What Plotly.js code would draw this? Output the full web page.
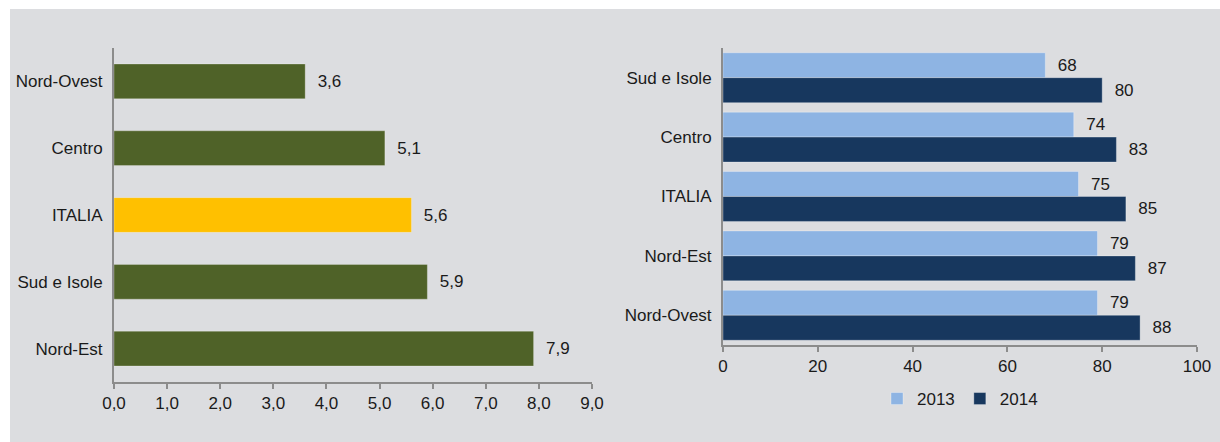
<!DOCTYPE html>
<html>
<head>
<meta charset="utf-8">
<script src="https://cdn.plot.ly/plotly-3.0.1.min.js"></script>
<style>html,body{margin:0;padding:0;background:#fff;}#chart{width:1220px;height:442px;}</style>
</head>
<body>
<div id="chart"></div>
<script>
// Left chart
const leftCategories = ["Nord-Ovest", "Centro", "ITALIA", "Sud e Isole", "Nord-Est"];
const leftValues = [3.6, 5.1, 5.6, 5.9, 7.9];
const leftColors = ["#4f6228", "#4f6228", "#ffc000", "#4f6228", "#4f6228"];
const leftTicks = [0, 1, 2, 3, 4, 5, 6, 7, 8, 9];

// Right chart
const rightCategories = ["Sud e Isole", "Centro", "ITALIA", "Nord-Est", "Nord-Ovest"];
const values2013 = [68, 74, 75, 79, 79];
const values2014 = [80, 83, 85, 87, 88];
const seriesNames = ["2013", "2014"];
const rightTicks = [0, 20, 40, 60, 80, 100];

const W = 1220, H = 442;
const px = v => v / W;
const py = v => (H - v) / H;

const font = {family: "Liberation Sans, Arial, sans-serif", size: 17, color: "#1a1a1a"};
const NB = "\u00a0\u00a0";
const rightBarWidth = 0.42;

const traces = [
  {
    type: "bar", orientation: "h",
    y: leftCategories, x: leftValues,
    xaxis: "x", yaxis: "y",
    width: 0.52,
    marker: {color: leftColors, line: {color: "rgba(255,255,255,0.25)", width: 1}},
    text: leftValues.map(v => NB + v.toFixed(1).replace(".", ",")),
    texttemplate: "%{text}",
    textposition: "outside", cliponaxis: false, constraintext: "none",
    textfont: font, showlegend: false, hoverinfo: "skip"
  },
  {
    type: "bar", orientation: "h", name: seriesNames[0],
    y: rightCategories, x: values2013,
    xaxis: "x2", yaxis: "y2",
    width: rightBarWidth, offset: -rightBarWidth,
    marker: {color: "#8eb4e3", line: {color: "rgba(255,255,255,0.3)", width: 1}},
    text: values2013.map(v => NB + v), texttemplate: "%{text}",
    textposition: "outside", cliponaxis: false, constraintext: "none",
    textfont: font, hoverinfo: "skip"
  },
  {
    type: "bar", orientation: "h", name: seriesNames[1],
    y: rightCategories, x: values2014,
    xaxis: "x2", yaxis: "y2",
    width: rightBarWidth, offset: 0,
    marker: {color: "#17375e", line: {color: "rgba(255,255,255,0.3)", width: 1}},
    text: values2014.map(v => NB + v), texttemplate: "%{text}",
    textposition: "outside", cliponaxis: false, constraintext: "none",
    textfont: font, hoverinfo: "skip"
  }
];

const axisCommon = {
  showline: true, linecolor: "#8c8c8c", linewidth: 2,
  showgrid: false, zeroline: false, tickfont: font,
  fixedrange: true
};

const layout = {
  width: W, height: H,
  margin: {l: 0, r: 0, t: 0, b: 0},
  paper_bgcolor: "#ffffff",
  plot_bgcolor: "rgba(0,0,0,0)",
  font: font,
  separators: ",.",
  barmode: "overlay",
  shapes: [{
    type: "rect", xref: "paper", yref: "paper", layer: "below",
    x0: px(10), x1: 1, y0: 0, y1: py(9),
    fillcolor: "#dcdde0", line: {width: 0}
  }],
  xaxis: Object.assign({}, axisCommon, {
    domain: [px(114), px(592)], anchor: "y",
    range: [0, 9], tickvals: leftTicks,
    ticktext: leftTicks.map(v => v.toFixed(1).replace(".", ",")),
    ticks: "outside", ticklen: 5, tickcolor: "#8c8c8c", tickwidth: 2
  }),
  yaxis: Object.assign({}, axisCommon, {
    domain: [py(382), py(48)], anchor: "x",
    autorange: "reversed", ticks: "", ticklabelstandoff: 6
  }),
  xaxis2: Object.assign({}, axisCommon, {
    domain: [px(723), px(1197)], anchor: "y2",
    range: [0, 100], tickvals: rightTicks,
    ticks: "outside", ticklen: 5, tickcolor: "#8c8c8c", tickwidth: 2
  }),
  yaxis2: Object.assign({}, axisCommon, {
    domain: [py(345), py(48)], anchor: "x2",
    autorange: "reversed", ticks: "", ticklabelstandoff: 6
  }),
  legend: {
    orientation: "h", x: px(960), xanchor: "center",
    y: py(399), yanchor: "middle",
    font: font, bgcolor: "rgba(0,0,0,0)", itemwidth: 30
  }
};

Plotly.newPlot("chart", traces, layout, {displayModeBar: false, staticPlot: true});
</script>
</body>
</html>
